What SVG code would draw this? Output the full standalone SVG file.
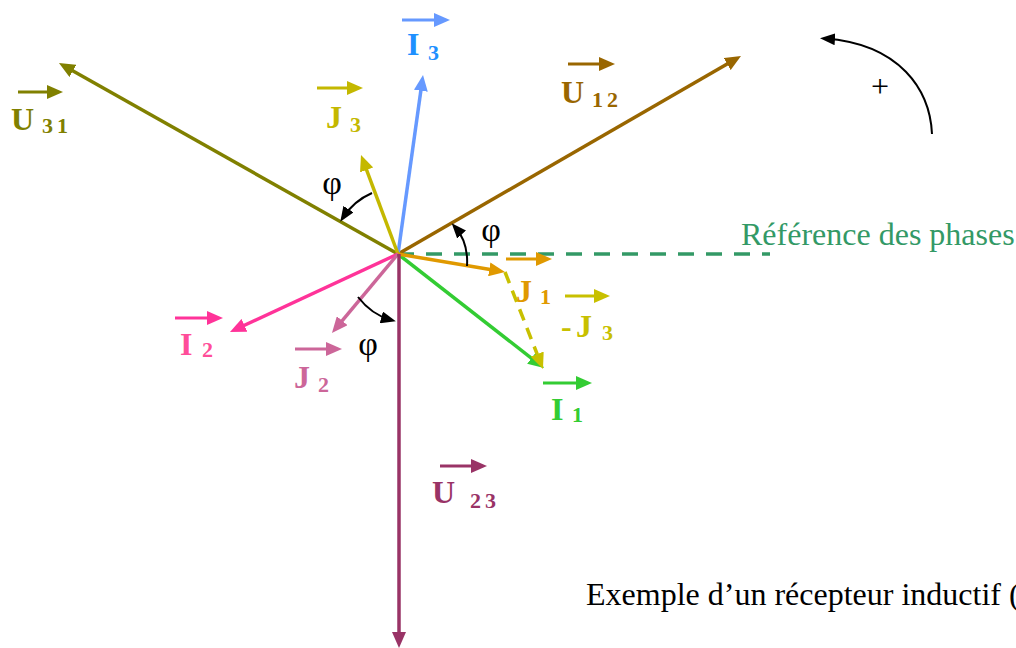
<svg xmlns="http://www.w3.org/2000/svg" width="1016" height="648" viewBox="0 0 1016 648">
<style>
.v{fill:none;stroke-width:3.5}
.la{fill:none;stroke-width:3}
.arc{fill:none;stroke:#000;stroke-width:2}
.lbl{font-family:"Liberation Serif","Times New Roman",serif;font-weight:bold;font-size:32px}
.sub{font-size:22px}
.phi{font-family:"Liberation Serif","Times New Roman",serif;font-size:34px;fill:#000;text-anchor:middle}
.txt{font-family:"Liberation Serif","Times New Roman",serif;font-size:32px}
</style>
<defs>
<marker id="m-olive" markerUnits="userSpaceOnUse" markerWidth="16" markerHeight="14" viewBox="0 0 16 14" refX="10" refY="7" orient="auto"><path d="M0,0 L16,7 L0,14 Z" fill="#808000"/></marker>
<marker id="m-yel" markerUnits="userSpaceOnUse" markerWidth="16" markerHeight="14" viewBox="0 0 16 14" refX="10" refY="7" orient="auto"><path d="M0,0 L16,7 L0,14 Z" fill="#c4b800"/></marker>
<marker id="m-yel2" markerUnits="userSpaceOnUse" markerWidth="16" markerHeight="14" viewBox="0 0 16 14" refX="10" refY="7" orient="auto"><path d="M0,0 L16,7 L0,14 Z" fill="#c8c000"/></marker>
<marker id="m-blue" markerUnits="userSpaceOnUse" markerWidth="16" markerHeight="14" viewBox="0 0 16 14" refX="10" refY="7" orient="auto"><path d="M0,0 L16,7 L0,14 Z" fill="#6699ff"/></marker>
<marker id="m-brown" markerUnits="userSpaceOnUse" markerWidth="16" markerHeight="14" viewBox="0 0 16 14" refX="10" refY="7" orient="auto"><path d="M0,0 L16,7 L0,14 Z" fill="#996600"/></marker>
<marker id="m-orange" markerUnits="userSpaceOnUse" markerWidth="16" markerHeight="14" viewBox="0 0 16 14" refX="10" refY="7" orient="auto"><path d="M0,0 L16,7 L0,14 Z" fill="#e09900"/></marker>
<marker id="m-green" markerUnits="userSpaceOnUse" markerWidth="16" markerHeight="14" viewBox="0 0 16 14" refX="10" refY="7" orient="auto"><path d="M0,0 L16,7 L0,14 Z" fill="#33cc33"/></marker>
<marker id="m-pink" markerUnits="userSpaceOnUse" markerWidth="16" markerHeight="14" viewBox="0 0 16 14" refX="10" refY="7" orient="auto"><path d="M0,0 L16,7 L0,14 Z" fill="#ff3399"/></marker>
<marker id="m-mauve" markerUnits="userSpaceOnUse" markerWidth="16" markerHeight="14" viewBox="0 0 16 14" refX="10" refY="7" orient="auto"><path d="M0,0 L16,7 L0,14 Z" fill="#cc6699"/></marker>
<marker id="m-purple" markerUnits="userSpaceOnUse" markerWidth="16" markerHeight="14" viewBox="0 0 16 14" refX="10" refY="7" orient="auto"><path d="M0,0 L16,7 L0,14 Z" fill="#993366"/></marker>
<marker id="m-black" markerUnits="userSpaceOnUse" markerWidth="15" markerHeight="12" viewBox="0 0 15 12" refX="10" refY="6" orient="auto"><path d="M0,0 L15,6 L0,12 Z" fill="#000"/></marker>
</defs>
<rect width="1016" height="648" fill="#fff"/>

<g id="connectors">
  <line class="v" x1="398" y1="254" x2="770" y2="254" stroke="#339966" stroke-width="4" stroke-dasharray="16 12"/>
  <line class="v" x1="398" y1="254" x2="64.2" y2="66" stroke="#808000" marker-end="url(#m-olive)"/>
  <line class="v" x1="398" y1="254" x2="735.8" y2="59" stroke="#996600" marker-end="url(#m-brown)"/>
  <line class="v" x1="398" y1="254" x2="422.2" y2="80.9" stroke="#6699ff" marker-end="url(#m-blue)"/>
  <line class="v" x1="398" y1="254" x2="363.1" y2="160.6" stroke="#c4b800" marker-end="url(#m-yel)"/>
  <line class="v" x1="398" y1="254" x2="235.4" y2="329.5" stroke="#ff3399" marker-end="url(#m-pink)"/>
  <line class="v" x1="398" y1="254" x2="335.8" y2="328.4" stroke="#cc6699" marker-end="url(#m-mauve)"/>
  <line class="v" x1="398" y1="254" x2="539.3" y2="364.3" stroke="#33cc33" marker-end="url(#m-green)"/>
  <line class="v" x1="398" y1="254" x2="499.1" y2="271" stroke="#e09900" marker-end="url(#m-orange)"/>
  <line class="v" x1="399" y1="254" x2="399" y2="642" stroke="#993366" marker-end="url(#m-purple)"/>
  <line class="v" x1="505" y1="272" x2="540.8" y2="363.4" stroke="#c8c000" stroke-width="4" stroke-dasharray="12 8" marker-end="url(#m-yel2)"/>
  <path class="arc" d="M372,193 A66,66 0 0,0 343,217.5" marker-end="url(#m-black)"/>
  <path class="arc" d="M467,266 C468,250 463,236 455,227" marker-end="url(#m-black)"/>
  <path class="arc" d="M358,297 C368,310 380,317 391,320" marker-end="url(#m-black)"/>
  <path class="arc" d="M932,134 C930,90 900,44 825,38.5" marker-end="url(#m-black)"/>
</g>

<g id="label-U31">
  <line class="la" x1="18" y1="92" x2="57" y2="92" stroke="#808000" marker-end="url(#m-olive)"/>
  <text class="lbl" x="11" y="130" fill="#808000">U</text>
  <text class="lbl sub" x="42" y="133" fill="#808000" letter-spacing="4">31</text>
</g>
<g id="label-I3">
  <line class="la" x1="402" y1="20" x2="444" y2="20" stroke="#6699ff" marker-end="url(#m-blue)"/>
  <text class="lbl" x="407" y="55" fill="#1e90ff">I</text>
  <text class="lbl sub" x="428" y="60" fill="#1e90ff">3</text>
</g>
<g id="label-J3">
  <line class="la" x1="317" y1="88" x2="357" y2="88" stroke="#c4b800" marker-end="url(#m-yel)"/>
  <text class="lbl" x="326" y="128" fill="#c4b800">J</text>
  <text class="lbl sub" x="350" y="132" fill="#c4b800">3</text>
</g>
<g id="label-U12">
  <line class="la" x1="568" y1="64" x2="609" y2="64" stroke="#996600" marker-end="url(#m-brown)"/>
  <text class="lbl" x="561" y="103" fill="#996600">U</text>
  <text class="lbl sub" x="592" y="107" fill="#996600" letter-spacing="4">12</text>
</g>
<g id="label-J1">
  <line class="la" x1="506" y1="259" x2="546" y2="259" stroke="#e09900" marker-end="url(#m-orange)"/>
  <text class="lbl" x="516" y="302" fill="#e09900">J</text>
  <text class="lbl sub" x="540" y="304" fill="#e09900">1</text>
</g>
<g id="label-mJ3">
  <line class="la" x1="565" y1="296" x2="604" y2="296" stroke="#c8c000" marker-end="url(#m-yel2)"/>
  <text class="lbl" x="561" y="337" fill="#c8c000">-</text>
  <text class="lbl" x="576" y="337" fill="#c8c000">J</text>
  <text class="lbl sub" x="602" y="340" fill="#c8c000">3</text>
</g>
<g id="label-I1">
  <line class="la" x1="543" y1="383" x2="586" y2="383" stroke="#33cc33" marker-end="url(#m-green)"/>
  <text class="lbl" x="551" y="420" fill="#33cc33">I</text>
  <text class="lbl sub" x="572" y="422" fill="#33cc33">1</text>
</g>
<g id="label-I2">
  <line class="la" x1="175" y1="318" x2="217" y2="318" stroke="#ff3399" marker-end="url(#m-pink)"/>
  <text class="lbl" x="180" y="355" fill="#ff4d99">I</text>
  <text class="lbl sub" x="202" y="357" fill="#ff4d99">2</text>
</g>
<g id="label-J2">
  <line class="la" x1="295" y1="349" x2="336" y2="349" stroke="#cc6699" marker-end="url(#m-mauve)"/>
  <text class="lbl" x="294" y="388" fill="#cc6699">J</text>
  <text class="lbl sub" x="318" y="392" fill="#cc6699">2</text>
</g>
<g id="label-U23">
  <line class="la" x1="440" y1="466" x2="481" y2="466" stroke="#993366" marker-end="url(#m-purple)"/>
  <text class="lbl" x="432" y="503" fill="#993366">U</text>
  <text class="lbl sub" x="470" y="508" fill="#993366" letter-spacing="4">23</text>
</g>

<g id="angles">
  <text class="phi" x="332" y="194">φ</text>
  <text class="phi" x="491" y="241">φ</text>
  <text class="phi" x="368" y="355">φ</text>
</g>

<g id="reference">
  <text class="txt" x="741" y="245" fill="#339966">Référence des phases</text>
</g>
<g id="rotation">
  <text class="txt" x="880" y="97" font-size="26" text-anchor="middle" fill="#000">+</text>
</g>
<g id="caption">
  <text class="txt" x="586" y="605" font-size="32" fill="#000">Exemple d’un récepteur inductif (</text>
</g>
</svg>
